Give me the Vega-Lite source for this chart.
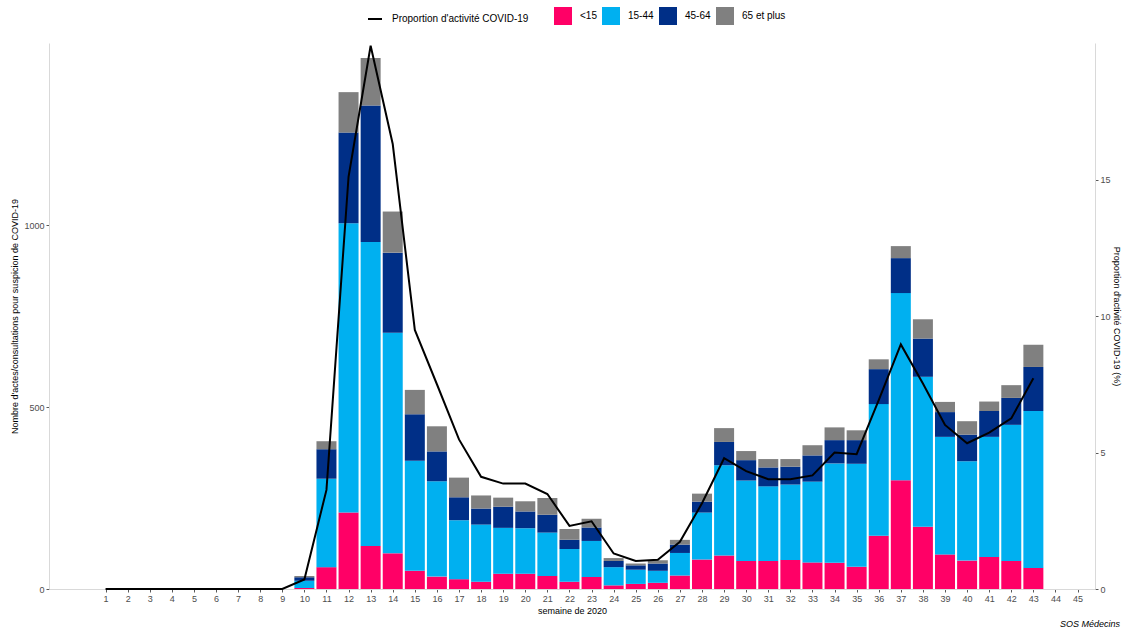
{
  "$schema": "https://vega.github.io/schema/vega-lite/v6.json",
  "width": 1046,
  "height": 546,
  "autosize": {"type": "none"},
  "padding": {"left": 49, "top": 43, "right": 27, "bottom": 39},
  "background": "white",
  "config": {
    "view": {"stroke": null},
    "font": "Liberation Sans",
    "axis": {
      "grid": false,
      "domainColor": "#d9d9d9",
      "tickColor": "#595959",
      "tickSize": 3,
      "labelColor": "#4d4d4d",
      "labelFontSize": 9,
      "labelFont": "Liberation Sans",
      "titleFont": "Liberation Sans",
      "titleFontSize": 9,
      "titleFontWeight": "normal",
      "titleColor": "black",
      "labelPadding": 2,
      "labelOverlap": false
    },
    "axisX": {"labelOverlap": false, "labelFlush": false, "labelSeparation": 0},
    "legend": {"labelFont": "Liberation Sans", "labelFontSize": 10, "labelColor": "black", "padding": 0}
  },
  "title": {
    "text": "SOS Médecins",
    "orient": "bottom",
    "anchor": "end",
    "font": "Liberation Sans",
    "fontSize": 9,
    "fontStyle": "italic",
    "fontWeight": "normal",
    "color": "black",
    "offset": 5
  },
  "datasets": {
    "actes": [
      {"semaine": 10, "groupe": "<15", "n": 3}, {"semaine": 10, "groupe": "15-44", "n": 20}, {"semaine": 10, "groupe": "45-64", "n": 9}, {"semaine": 10, "groupe": "65 et plus", "n": 4},
      {"semaine": 11, "groupe": "<15", "n": 60}, {"semaine": 11, "groupe": "15-44", "n": 243}, {"semaine": 11, "groupe": "45-64", "n": 81}, {"semaine": 11, "groupe": "65 et plus", "n": 22},
      {"semaine": 12, "groupe": "<15", "n": 210}, {"semaine": 12, "groupe": "15-44", "n": 795}, {"semaine": 12, "groupe": "45-64", "n": 249}, {"semaine": 12, "groupe": "65 et plus", "n": 111},
      {"semaine": 13, "groupe": "<15", "n": 118}, {"semaine": 13, "groupe": "15-44", "n": 835}, {"semaine": 13, "groupe": "45-64", "n": 375}, {"semaine": 13, "groupe": "65 et plus", "n": 131},
      {"semaine": 14, "groupe": "<15", "n": 98}, {"semaine": 14, "groupe": "15-44", "n": 606}, {"semaine": 14, "groupe": "45-64", "n": 220}, {"semaine": 14, "groupe": "65 et plus", "n": 113},
      {"semaine": 15, "groupe": "<15", "n": 50}, {"semaine": 15, "groupe": "15-44", "n": 302}, {"semaine": 15, "groupe": "45-64", "n": 128}, {"semaine": 15, "groupe": "65 et plus", "n": 67},
      {"semaine": 16, "groupe": "<15", "n": 34}, {"semaine": 16, "groupe": "15-44", "n": 262}, {"semaine": 16, "groupe": "45-64", "n": 82}, {"semaine": 16, "groupe": "65 et plus", "n": 69},
      {"semaine": 17, "groupe": "<15", "n": 27}, {"semaine": 17, "groupe": "15-44", "n": 162}, {"semaine": 17, "groupe": "45-64", "n": 63}, {"semaine": 17, "groupe": "65 et plus", "n": 54},
      {"semaine": 18, "groupe": "<15", "n": 20}, {"semaine": 18, "groupe": "15-44", "n": 157}, {"semaine": 18, "groupe": "45-64", "n": 44}, {"semaine": 18, "groupe": "65 et plus", "n": 36},
      {"semaine": 19, "groupe": "<15", "n": 42}, {"semaine": 19, "groupe": "15-44", "n": 126}, {"semaine": 19, "groupe": "45-64", "n": 58}, {"semaine": 19, "groupe": "65 et plus", "n": 25},
      {"semaine": 20, "groupe": "<15", "n": 42}, {"semaine": 20, "groupe": "15-44", "n": 125}, {"semaine": 20, "groupe": "45-64", "n": 46}, {"semaine": 20, "groupe": "65 et plus", "n": 28},
      {"semaine": 21, "groupe": "<15", "n": 36}, {"semaine": 21, "groupe": "15-44", "n": 119}, {"semaine": 21, "groupe": "45-64", "n": 49}, {"semaine": 21, "groupe": "65 et plus", "n": 46},
      {"semaine": 22, "groupe": "<15", "n": 20}, {"semaine": 22, "groupe": "15-44", "n": 90}, {"semaine": 22, "groupe": "45-64", "n": 25}, {"semaine": 22, "groupe": "65 et plus", "n": 30},
      {"semaine": 23, "groupe": "<15", "n": 33}, {"semaine": 23, "groupe": "15-44", "n": 99}, {"semaine": 23, "groupe": "45-64", "n": 37}, {"semaine": 23, "groupe": "65 et plus", "n": 24},
      {"semaine": 24, "groupe": "<15", "n": 10}, {"semaine": 24, "groupe": "15-44", "n": 50}, {"semaine": 24, "groupe": "45-64", "n": 17}, {"semaine": 24, "groupe": "65 et plus", "n": 8},
      {"semaine": 25, "groupe": "<15", "n": 14}, {"semaine": 25, "groupe": "15-44", "n": 39}, {"semaine": 25, "groupe": "45-64", "n": 12}, {"semaine": 25, "groupe": "65 et plus", "n": 5},
      {"semaine": 26, "groupe": "<15", "n": 17}, {"semaine": 26, "groupe": "15-44", "n": 33}, {"semaine": 26, "groupe": "45-64", "n": 20}, {"semaine": 26, "groupe": "65 et plus", "n": 9},
      {"semaine": 27, "groupe": "<15", "n": 37}, {"semaine": 27, "groupe": "15-44", "n": 62}, {"semaine": 27, "groupe": "45-64", "n": 23}, {"semaine": 27, "groupe": "65 et plus", "n": 13},
      {"semaine": 28, "groupe": "<15", "n": 81}, {"semaine": 28, "groupe": "15-44", "n": 129}, {"semaine": 28, "groupe": "45-64", "n": 30}, {"semaine": 28, "groupe": "65 et plus", "n": 22},
      {"semaine": 29, "groupe": "<15", "n": 92}, {"semaine": 29, "groupe": "15-44", "n": 248}, {"semaine": 29, "groupe": "45-64", "n": 64}, {"semaine": 29, "groupe": "65 et plus", "n": 38},
      {"semaine": 30, "groupe": "<15", "n": 77}, {"semaine": 30, "groupe": "15-44", "n": 221}, {"semaine": 30, "groupe": "45-64", "n": 56}, {"semaine": 30, "groupe": "65 et plus", "n": 25},
      {"semaine": 31, "groupe": "<15", "n": 77}, {"semaine": 31, "groupe": "15-44", "n": 205}, {"semaine": 31, "groupe": "45-64", "n": 52}, {"semaine": 31, "groupe": "65 et plus", "n": 23},
      {"semaine": 32, "groupe": "<15", "n": 80}, {"semaine": 32, "groupe": "15-44", "n": 207}, {"semaine": 32, "groupe": "45-64", "n": 49}, {"semaine": 32, "groupe": "65 et plus", "n": 21},
      {"semaine": 33, "groupe": "<15", "n": 73}, {"semaine": 33, "groupe": "15-44", "n": 222}, {"semaine": 33, "groupe": "45-64", "n": 72}, {"semaine": 33, "groupe": "65 et plus", "n": 28},
      {"semaine": 34, "groupe": "<15", "n": 72}, {"semaine": 34, "groupe": "15-44", "n": 273}, {"semaine": 34, "groupe": "45-64", "n": 64}, {"semaine": 34, "groupe": "65 et plus", "n": 35},
      {"semaine": 35, "groupe": "<15", "n": 61}, {"semaine": 35, "groupe": "15-44", "n": 283}, {"semaine": 35, "groupe": "45-64", "n": 65}, {"semaine": 35, "groupe": "65 et plus", "n": 27},
      {"semaine": 36, "groupe": "<15", "n": 146}, {"semaine": 36, "groupe": "15-44", "n": 362}, {"semaine": 36, "groupe": "45-64", "n": 96}, {"semaine": 36, "groupe": "65 et plus", "n": 27},
      {"semaine": 37, "groupe": "<15", "n": 299}, {"semaine": 37, "groupe": "15-44", "n": 514}, {"semaine": 37, "groupe": "45-64", "n": 96}, {"semaine": 37, "groupe": "65 et plus", "n": 33},
      {"semaine": 38, "groupe": "<15", "n": 171}, {"semaine": 38, "groupe": "15-44", "n": 412}, {"semaine": 38, "groupe": "45-64", "n": 105}, {"semaine": 38, "groupe": "65 et plus", "n": 53},
      {"semaine": 39, "groupe": "<15", "n": 95}, {"semaine": 39, "groupe": "15-44", "n": 323}, {"semaine": 39, "groupe": "45-64", "n": 68}, {"semaine": 39, "groupe": "65 et plus", "n": 28},
      {"semaine": 40, "groupe": "<15", "n": 78}, {"semaine": 40, "groupe": "15-44", "n": 273}, {"semaine": 40, "groupe": "45-64", "n": 73}, {"semaine": 40, "groupe": "65 et plus", "n": 37},
      {"semaine": 41, "groupe": "<15", "n": 88}, {"semaine": 41, "groupe": "15-44", "n": 330}, {"semaine": 41, "groupe": "45-64", "n": 71}, {"semaine": 41, "groupe": "65 et plus", "n": 26},
      {"semaine": 42, "groupe": "<15", "n": 77}, {"semaine": 42, "groupe": "15-44", "n": 374}, {"semaine": 42, "groupe": "45-64", "n": 74}, {"semaine": 42, "groupe": "65 et plus", "n": 35},
      {"semaine": 43, "groupe": "<15", "n": 58}, {"semaine": 43, "groupe": "15-44", "n": 431}, {"semaine": 43, "groupe": "45-64", "n": 121}, {"semaine": 43, "groupe": "65 et plus", "n": 61}
    ],
    "proportion": [
      {"semaine": 1, "proportion": 0}, {"semaine": 2, "proportion": 0}, {"semaine": 3, "proportion": 0}, {"semaine": 4, "proportion": 0},
      {"semaine": 5, "proportion": 0}, {"semaine": 6, "proportion": 0}, {"semaine": 7, "proportion": 0}, {"semaine": 8, "proportion": 0},
      {"semaine": 9, "proportion": 0}, {"semaine": 10, "proportion": 0.35}, {"semaine": 11, "proportion": 3.63}, {"semaine": 12, "proportion": 15.1},
      {"semaine": 13, "proportion": 19.9}, {"semaine": 14, "proportion": 16.3}, {"semaine": 15, "proportion": 9.49}, {"semaine": 16, "proportion": 7.5},
      {"semaine": 17, "proportion": 5.48}, {"semaine": 18, "proportion": 4.11}, {"semaine": 19, "proportion": 3.86}, {"semaine": 20, "proportion": 3.86},
      {"semaine": 21, "proportion": 3.48}, {"semaine": 22, "proportion": 2.31}, {"semaine": 23, "proportion": 2.48}, {"semaine": 24, "proportion": 1.3},
      {"semaine": 25, "proportion": 1.03}, {"semaine": 26, "proportion": 1.07}, {"semaine": 27, "proportion": 1.73}, {"semaine": 28, "proportion": 3.14},
      {"semaine": 29, "proportion": 4.79}, {"semaine": 30, "proportion": 4.32}, {"semaine": 31, "proportion": 4.02}, {"semaine": 32, "proportion": 4.02},
      {"semaine": 33, "proportion": 4.16}, {"semaine": 34, "proportion": 5.0}, {"semaine": 35, "proportion": 4.94}, {"semaine": 36, "proportion": 6.92},
      {"semaine": 37, "proportion": 8.96}, {"semaine": 38, "proportion": 7.53}, {"semaine": 39, "proportion": 6.01}, {"semaine": 40, "proportion": 5.34},
      {"semaine": 41, "proportion": 5.73}, {"semaine": 42, "proportion": 6.25}, {"semaine": 43, "proportion": 7.72}
    ]
  },
  "layer": [
    {
      "data": {"name": "actes"},
      "transform": [
        {"calculate": "indexof(['<15','15-44','45-64','65 et plus'], datum.groupe)", "as": "rang"}
      ],
      "mark": {"type": "bar", "size": 20, "orient": "vertical"},
      "encoding": {
        "x": {
          "field": "semaine",
          "type": "quantitative",
          "scale": {"domain": [-1.56, 45.79], "nice": false, "zero": false, "padding": 0},
          "axis": {
            "values": [1,2,3,4,5,6,7,8,9,10,11,12,13,14,15,16,17,18,19,20,21,22,23,24,25,26,27,28,29,30,31,32,33,34,35,36,37,38,39,40,41,42,43,44,45],
            "format": "d",
            "title": "semaine de 2020",
            "titlePadding": 3,
            "labelFlush": false,
            "labelOverlap": false,
            "labelSeparation": 0
          }
        },
        "y": {
          "field": "n",
          "type": "quantitative",
          "stack": "zero",
          "scale": {"domain": [0, 1500], "nice": false},
          "axis": {
            "values": [0, 500, 1000],
            "format": "d",
            "title": "Nombre d'actes/consultations pour suspicion de COVID-19",
            "titlePadding": 4
          }
        },
        "fill": {
          "field": "groupe",
          "type": "nominal",
          "scale": {
            "domain": ["<15", "15-44", "45-64", "65 et plus"],
            "range": ["#FF0066", "#00B0F0", "#002F87", "#808080"]
          },
          "legend": {
            "orient": "none",
            "legendX": 505,
            "legendY": -36,
            "direction": "horizontal",
            "title": null,
            "symbolType": "square",
            "symbolSize": 324,
            "symbolStrokeWidth": 0,
            "symbolOpacity": 1,
            "labelOffset": 8,
            "columnPadding": 5
          }
        },
        "order": {"field": "rang", "type": "quantitative", "sort": "ascending"}
      }
    },
    {
      "data": {"name": "proportion"},
      "mark": {"type": "line", "strokeWidth": 2},
      "encoding": {
        "x": {
          "field": "semaine",
          "type": "quantitative",
          "axis": {
            "values": [1,2,3,4,5,6,7,8,9,10,11,12,13,14,15,16,17,18,19,20,21,22,23,24,25,26,27,28,29,30,31,32,33,34,35,36,37,38,39,40,41,42,43,44,45],
            "format": "d",
            "title": "semaine de 2020",
            "titlePadding": 3,
            "labelFlush": false,
            "labelOverlap": false,
            "labelSeparation": 0
          }
        },
        "y": {
          "field": "proportion",
          "type": "quantitative",
          "scale": {"domain": [0, 20], "nice": false},
          "axis": {
            "orient": "right",
            "values": [0, 5, 10, 15],
            "title": "Proportion d'activité COVID-19 (%)",
            "titlePadding": 1
          }
        },
        "stroke": {
          "datum": "Proportion d'activité COVID-19",
          "type": "nominal",
          "scale": {"range": ["black"]},
          "legend": {
            "orient": "none",
            "legendX": 318,
            "legendY": -32,
            "direction": "horizontal",
            "title": null,
            "symbolType": "stroke",
            "symbolSize": 196,
            "symbolStrokeWidth": 2,
            "labelOffset": 9
          }
        }
      }
    }
  ],
  "resolve": {"scale": {"y": "independent", "fill": "independent", "stroke": "independent"}}
}
